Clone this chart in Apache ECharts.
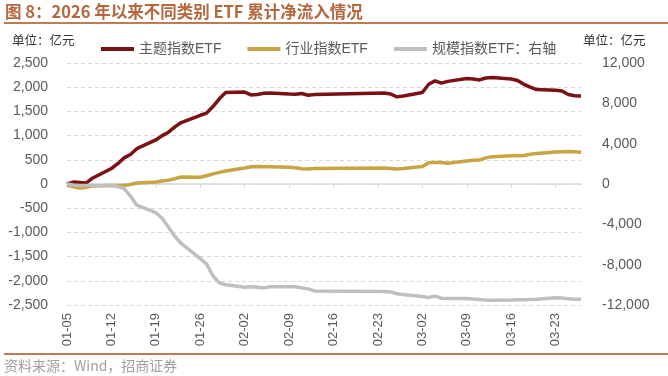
<!DOCTYPE html>
<html>
<head>
<meta charset="utf-8">
<script src="https://cdn.jsdelivr.net/npm/echarts@6/dist/echarts.min.js"></script>
<style>
  html, body { margin: 0; padding: 0; background: #fff; }
  #chart { width: 668px; height: 376px; }
</style>
</head>
<body>
<div id="chart"></div>
<script>
// 交易日
var tradeDates = [
  "01-05", "01-06", "01-07", "01-08", "01-09",
  "01-12", "01-13", "01-14", "01-15", "01-16",
  "01-19", "01-20", "01-21", "01-22", "01-23",
  "01-26", "01-27", "01-28", "01-29", "01-30",
  "02-02", "02-03", "02-04", "02-05", "02-06",
  "02-09", "02-10", "02-11", "02-12", "02-13",
  "02-24", "02-25", "02-26", "02-27",
  "03-02", "03-03", "03-04", "03-05", "03-06",
  "03-09", "03-10", "03-11", "03-12", "03-13",
  "03-16", "03-17", "03-18", "03-19", "03-20",
  "03-23", "03-24", "03-25", "03-26", "03-27"
];
// 主题指数ETF（左轴，亿元）
var themeEtf = [
  0, 40, 30, 20, 120,
  320, 420, 540, 610, 730,
  910, 1000, 1070, 1180, 1270,
  1420, 1465, 1600, 1760, 1890,
  1900, 1840, 1850, 1875, 1880,
  1860, 1855, 1870, 1835, 1850,
  1880, 1860, 1800, 1820,
  1890, 2060, 2130, 2085, 2120,
  2180, 2170, 2150, 2190, 2200,
  2170, 2140, 2060, 2000, 1950,
  1935, 1920, 1850, 1825, 1820
];
// 行业指数ETF（左轴，亿元）
var industryEtf = [
  -20, -60, -85, -70, -40,
  -30, -30, -30, -10, 20,
  40, 60, 80, 110, 145,
  140, 170, 210, 240, 270,
  330, 355, 360, 355, 355,
  345, 335, 315, 310, 320,
  330, 320, 310, 320,
  360, 440, 445, 445, 430,
  475, 490, 495, 540, 565,
  585, 585, 590, 615, 630,
  660, 668, 670, 665, 655
];
// 规模指数ETF（右轴，亿元）
var scaleEtf = [
  0, -100, -150, -150, -150,
  -150, -250, -450, -1200, -2100,
  -2850, -3400, -4300, -5200, -5900,
  -7400, -7950, -9100, -9800, -10000,
  -10250, -10200, -10250, -10300, -10200,
  -10200, -10200, -10300, -10400, -10600,
  -10650, -10700, -10880, -10950,
  -11150, -11250, -11120, -11330, -11350,
  -11350, -11400, -11450, -11500, -11540,
  -11500, -11480, -11470, -11450, -11430,
  -11280, -11300, -11370, -11420, -11440
];
var seriesNames = ["主题指数ETF", "行业指数ETF", "规模指数ETF：右轴"];

// 日历日横轴
var categories = [];
var d = new Date(2026, 0, 5);
var end = new Date(2026, 2, 27);
while (d <= end) {
  var mm = ("0" + (d.getMonth() + 1)).slice(-2);
  var dd = ("0" + d.getDate()).slice(-2);
  categories.push(mm + "-" + dd);
  d.setDate(d.getDate() + 1);
}

function pairs(arr) {
  return tradeDates.map(function (t, i) { return [t, arr[i]]; });
}
function fmt(v) {
  return v.toLocaleString("en-US");
}

var brown = "#BF7B52";
var cjk = "'Liberation Sans', 'Noto Sans CJK SC', sans-serif";
var num = "'Liberation Sans', sans-serif";

var myChart = echarts.init(document.getElementById("chart"));
myChart.setOption({
  animation: false,
  textStyle: { fontFamily: cjk },
  grid: { left: 67, right: 87, top: 63, bottom: 71 },
  legend: {
    top: 37,
    left: 96,
    icon: "rect",
    itemWidth: 33,
    itemHeight: 4,
    itemGap: 26,
    textStyle: { color: "#595959", fontSize: 14, fontFamily: cjk },
    data: seriesNames
  },
  graphic: [
    {
      type: "text", left: 5, top: 3,
      style: { text: "图 8：2026 年以来不同类别 ETF 累计净流入情况", fill: "#B5673D",
        font: "bold 16.5px 'Noto Sans CJK SC', sans-serif" }
    },
    { type: "rect", left: 4, top: 22, shape: { width: 664, height: 2 }, style: { fill: brown } },
    {
      type: "text", left: 12, top: 34,
      style: { text: "单位：亿元", fill: "#333", font: "12.5px 'Noto Sans CJK SC', sans-serif" }
    },
    {
      type: "text", left: 583, top: 34,
      style: { text: "单位：亿元", fill: "#333", font: "12.5px 'Noto Sans CJK SC', sans-serif" }
    },
    { type: "rect", left: 4, top: 353, shape: { width: 664, height: 2 }, style: { fill: brown } },
    {
      type: "text", left: 4, top: 359,
      style: { text: "资料来源：Wind，招商证券", fill: "#a0a0a0", font: "14px 'Noto Sans CJK SC', sans-serif" }
    }
  ],
  xAxis: [
    {
      type: "category",
      data: categories,
      boundaryGap: false,
      axisLine: { show: false, onZero: false },
      axisTick: { show: false },
      axisLabel: {
        interval: 6, rotate: 90, margin: 8,
        color: "#595959", fontSize: 13, fontFamily: num
      },
      splitLine: { show: false }
    },
    {
      type: "category",
      data: categories,
      boundaryGap: false,
      position: "bottom",
      axisLine: { show: true, onZero: true, lineStyle: { color: "#D9D9D9", width: 1.5 } },
      axisTick: { show: true, interval: 6, length: 4, lineStyle: { color: "#D9D9D9" } },
      axisLabel: { show: false },
      splitLine: { show: false }
    }
  ],
  yAxis: [
    {
      type: "value",
      min: -2500, max: 2500, interval: 500,
      axisLine: { show: false },
      axisTick: { show: false },
      axisLabel: { formatter: fmt, color: "#595959", fontSize: 14, margin: 19, fontFamily: num },
      splitLine: { show: true, lineStyle: { color: "#D9D9D9", type: [4, 3], width: 1 } }
    },
    {
      type: "value",
      min: -12000, max: 12000, interval: 4000,
      axisLine: { show: false },
      axisTick: { show: false },
      axisLabel: { formatter: fmt, color: "#595959", fontSize: 14, margin: 21, fontFamily: num },
      splitLine: { show: false }
    }
  ],
  series: [
    {
      name: seriesNames[0], type: "line", data: pairs(themeEtf),
      yAxisIndex: 0, showSymbol: false, z: 3,
      itemStyle: { color: "#7B1114" },
      lineStyle: { color: "#7B1114", width: 3.5 }
    },
    {
      name: seriesNames[1], type: "line", data: pairs(industryEtf),
      yAxisIndex: 0, showSymbol: false, z: 2,
      itemStyle: { color: "#C9A443" },
      lineStyle: { color: "#C9A443", width: 3.5 }
    },
    {
      name: seriesNames[2], type: "line", data: pairs(scaleEtf),
      yAxisIndex: 1, showSymbol: false, z: 4,
      itemStyle: { color: "#BFBFBF" },
      lineStyle: { color: "#BFBFBF", width: 3.5 }
    }
  ]
});
</script>
</body>
</html>
